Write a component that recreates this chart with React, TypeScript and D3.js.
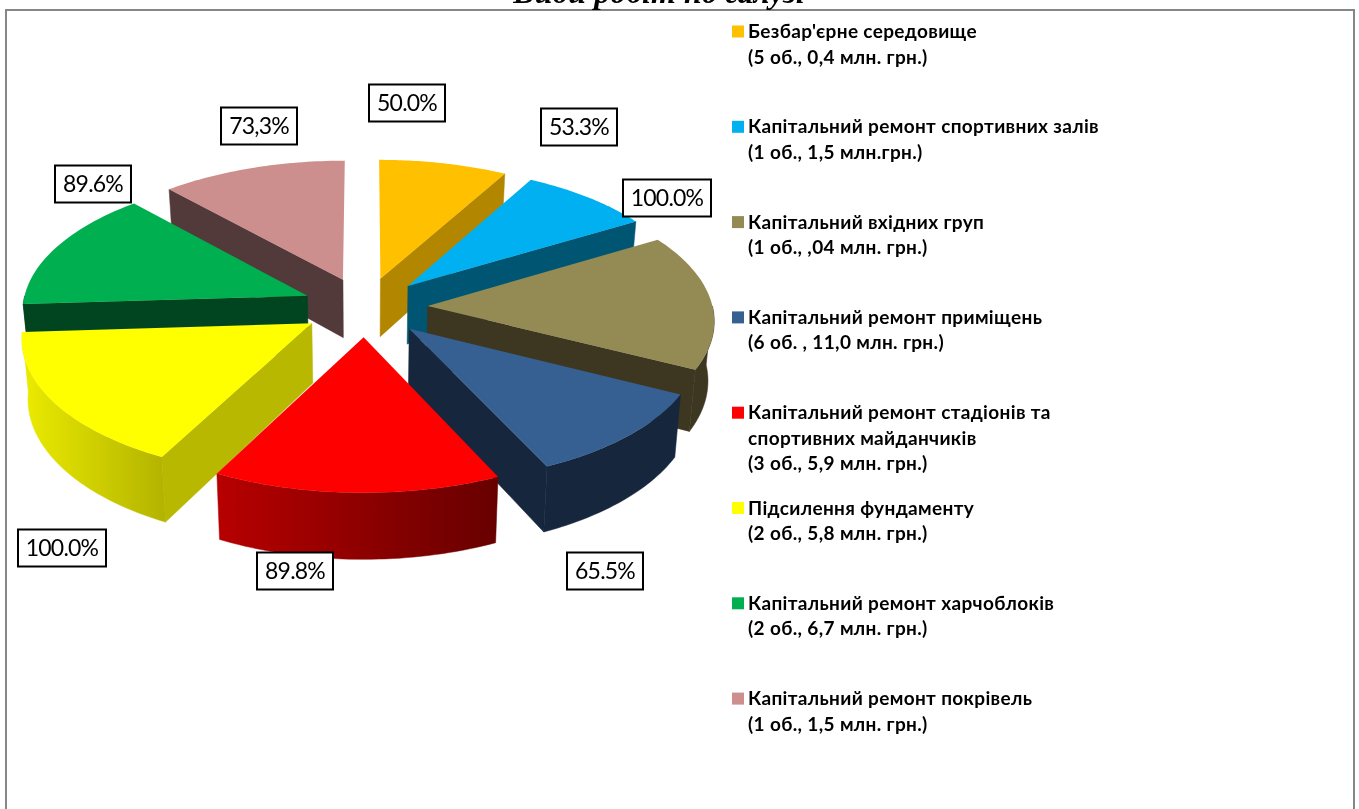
import React, { useRef, useEffect } from 'react';
import { select, pie, line, range, scaleLinear } from 'd3';

const titleText = 'Види робіт по галузі';

// slice sizes (share of the circle, %)
const shares = [8.06, 8.33, 16.11, 10.56, 14.58, 16.39, 14.31, 11.67];
const percentLabels = ['50.0%', '53.3%', '100.0%', '65.5%', '89.8%', '100.0%', '89.6%', '73,3%'];
const topColors = ['#FFC000', '#00B0F0', '#948A54', '#376092', '#FF0000', '#FFFF00', '#00B050', '#CD8E8E'];
const wallColors = ['#B38600', '#005672', '#3D3621', '#16263D', '#A00000', '#B8B800', '#00451F', '#533A3A'];
const legendLines = [
  ["Безбар'єрне середовище", '(5 об., 0,4 млн. грн.)'],
  ['Капітальний ремонт спортивних залів', '(1 об., 1,5 млн.грн.)'],
  ['Капітальний вхідних груп', '(1 об., ,04 млн. грн.)'],
  ['Капітальний ремонт приміщень', '(6 об. , 11,0 млн. грн.)'],
  ['Капітальний ремонт стадіонів та', 'спортивних майданчиків', '(3 об., 5,9 млн. грн.)'],
  ['Підсилення фундаменту', '(2 об., 5,8 млн. грн.)'],
  ['Капітальний ремонт харчоблоків', '(2 об., 6,7 млн. грн.)'],
  ['Капітальний ремонт покрівель', '(1 об., 1,5 млн. грн.)'],
];

// layout only: centres of the label boxes
const labelBoxes = [
  { cx: 407, cy: 103, w: 76 },
  { cx: 579, cy: 127, w: 76 },
  { cx: 667, cy: 198, w: 88 },
  { cx: 605, cy: 571, w: 76 },
  { cx: 295, cy: 571, w: 76 },
  { cx: 62, cy: 548, w: 88 },
  { cx: 93, cy: 184, w: 76 },
  { cx: 259, cy: 126, w: 76 },
];

const width = 1359;
const height = 809;
const centerX = 365;
const centerY = 307;
const radiusX = 285;
const radiusY = 135;
const explode = 0.22;
const tilt = 0.093; // perspective strength
const thickness = 59;
const converge = 0.018; // the bottom rim is a little narrower than the top one

const x = scaleLinear().domain([-1, 1]).range([centerX - radiusX, centerX + radiusX]);
const y = scaleLinear().domain([-1, 1]).range([centerY + radiusY, centerY - radiusY]);

function project(u: number, v: number, drop = 0): [number, number] {
  const w = 1 + tilt * v;
  const shrink = 1 - (converge * drop) / thickness;
  return [centerX + ((x(u) - centerX) / w) * shrink, centerY + (y(v) - centerY + drop) / w];
}

const toPath = line();

export default function App() {
  const svgRef = useRef(null);

  useEffect(() => {
    const svg = select(svgRef.current);
    svg.selectAll('*').remove();

    const defs = svg.append('defs');
    const gradient = (id: string, x1: number, x2: number, from: string, to: string) => {
      const g = defs
        .append('linearGradient')
        .attr('id', id)
        .attr('gradientUnits', 'userSpaceOnUse')
        .attr('x1', x1)
        .attr('x2', x2)
        .attr('y1', 0)
        .attr('y2', 0);
      g.append('stop').attr('offset', 0).attr('stop-color', from);
      g.append('stop').attr('offset', 1).attr('stop-color', to);
    };
    gradient('redWall', 215, 495, '#B80000', '#680000');
    gradient('yellowWall', 25, 163, '#EAEA00', '#B4B400');

    svg
      .append('rect')
      .attr('x', 6)
      .attr('y', 10)
      .attr('width', 1348)
      .attr('height', 830)
      .attr('fill', '#fff')
      .attr('stroke', '#868686')
      .attr('stroke-width', 2);

    svg
      .append('text')
      .attr('x', 659)
      .attr('y', 3)
      .attr('text-anchor', 'middle')
      .attr('font-family', '"Liberation Serif"')
      .attr('font-weight', 'bold')
      .attr('font-style', 'italic')
      .attr('font-size', 32)
      .text(titleText);

    const arcs = pie<number>().sort(null)(shares);
    const pieLayer = svg.append('g');

    // back to front so the nearer slices cover the walls behind them
    const drawOrder = [7, 0, 1, 6, 2, 5, 3, 4];
    drawOrder.forEach(i => {
      const a = arcs[i];
      const mid = (a.startAngle + a.endAngle) / 2;
      const ox = explode * Math.sin(mid);
      const oy = explode * Math.cos(mid);
      const rimPoint = (t: number, drop = 0) => project(ox + Math.sin(t), oy + Math.cos(t), drop);
      const apex = (drop = 0) => project(ox, oy, drop);
      const angles = (t0: number, t1: number) => range(0, 41).map(k => t0 + ((t1 - t0) * k) / 40);
      const wallFill = i === 4 ? 'url(#redWall)' : wallColors[i];

      const drawWall = (pts: [number, number][], fill: string) => {
        pieLayer
          .append('path')
          .attr('d', toPath(pts) + 'Z')
          .attr('fill', fill)
          .attr('stroke', fill)
          .attr('stroke-width', 0.5);
      };

      // flat cut faces
      if (Math.sin(a.endAngle) > 0.01) {
        drawWall([apex(), rimPoint(a.endAngle), rimPoint(a.endAngle, thickness), apex(thickness)], wallColors[i]);
      }
      if (Math.sin(a.startAngle) < -0.01) {
        drawWall([apex(), rimPoint(a.startAngle), rimPoint(a.startAngle, thickness), apex(thickness)], wallColors[i]);
      }

      // outer wall, only the part that faces the viewer
      const t0 = Math.max(a.startAngle, Math.PI / 2);
      const t1 = Math.min(a.endAngle, (3 * Math.PI) / 2);
      if (t1 > t0) {
        const ts = angles(t0, t1);
        const upper = ts.map(t => rimPoint(t));
        const lower = ts.map(t => rimPoint(t, thickness)).reverse();
        drawWall([...upper, ...lower], i === 5 ? 'url(#yellowWall)' : wallFill);
      }

      const rim = angles(a.startAngle, a.endAngle).map(t => rimPoint(t));
      pieLayer
        .append('path')
        .attr('d', toPath([apex(), ...rim]) + 'Z')
        .attr('fill', topColors[i]);
    });

    // percent boxes
    labelBoxes.forEach((b, i) => {
      const g = svg.append('g');
      g.append('rect')
        .attr('x', b.cx - b.w / 2)
        .attr('y', b.cy - 18.5)
        .attr('width', b.w)
        .attr('height', 37)
        .attr('fill', '#fff')
        .attr('stroke', '#000')
        .attr('stroke-width', 2);
      g.append('text')
        .attr('x', b.cx)
        .attr('y', b.cy + 8)
        .attr('text-anchor', 'middle')
        .attr('font-family', 'Lato')
        .attr('font-size', 23)
        .attr('letter-spacing', -0.8)
        .attr('fill', '#000')
        .text(percentLabels[i]);
    });

    // legend
    legendLines.forEach((lines, i) => {
      const top = 31 + i * 95.3;
      svg
        .append('rect')
        .attr('x', 732)
        .attr('y', top - 5.5)
        .attr('width', 12)
        .attr('height', 12)
        .attr('fill', topColors[i]);
      lines.forEach((txt, k) => {
        svg
          .append('text')
          .attr('x', 748)
          .attr('y', top + 7 + k * 25.5)
          .attr('font-family', 'Lato')
          .attr('font-weight', 'bold')
          .attr('font-size', 19)
          .attr('letter-spacing', 0.35)
          .attr('fill', '#000')
          .text(txt);
      });
    });
  }, []);

  return (
    <svg
      ref={svgRef}
      width={width}
      height={height}
      style={{ position: 'fixed', left: 0, top: 0 }}
    ></svg>
  );
}
